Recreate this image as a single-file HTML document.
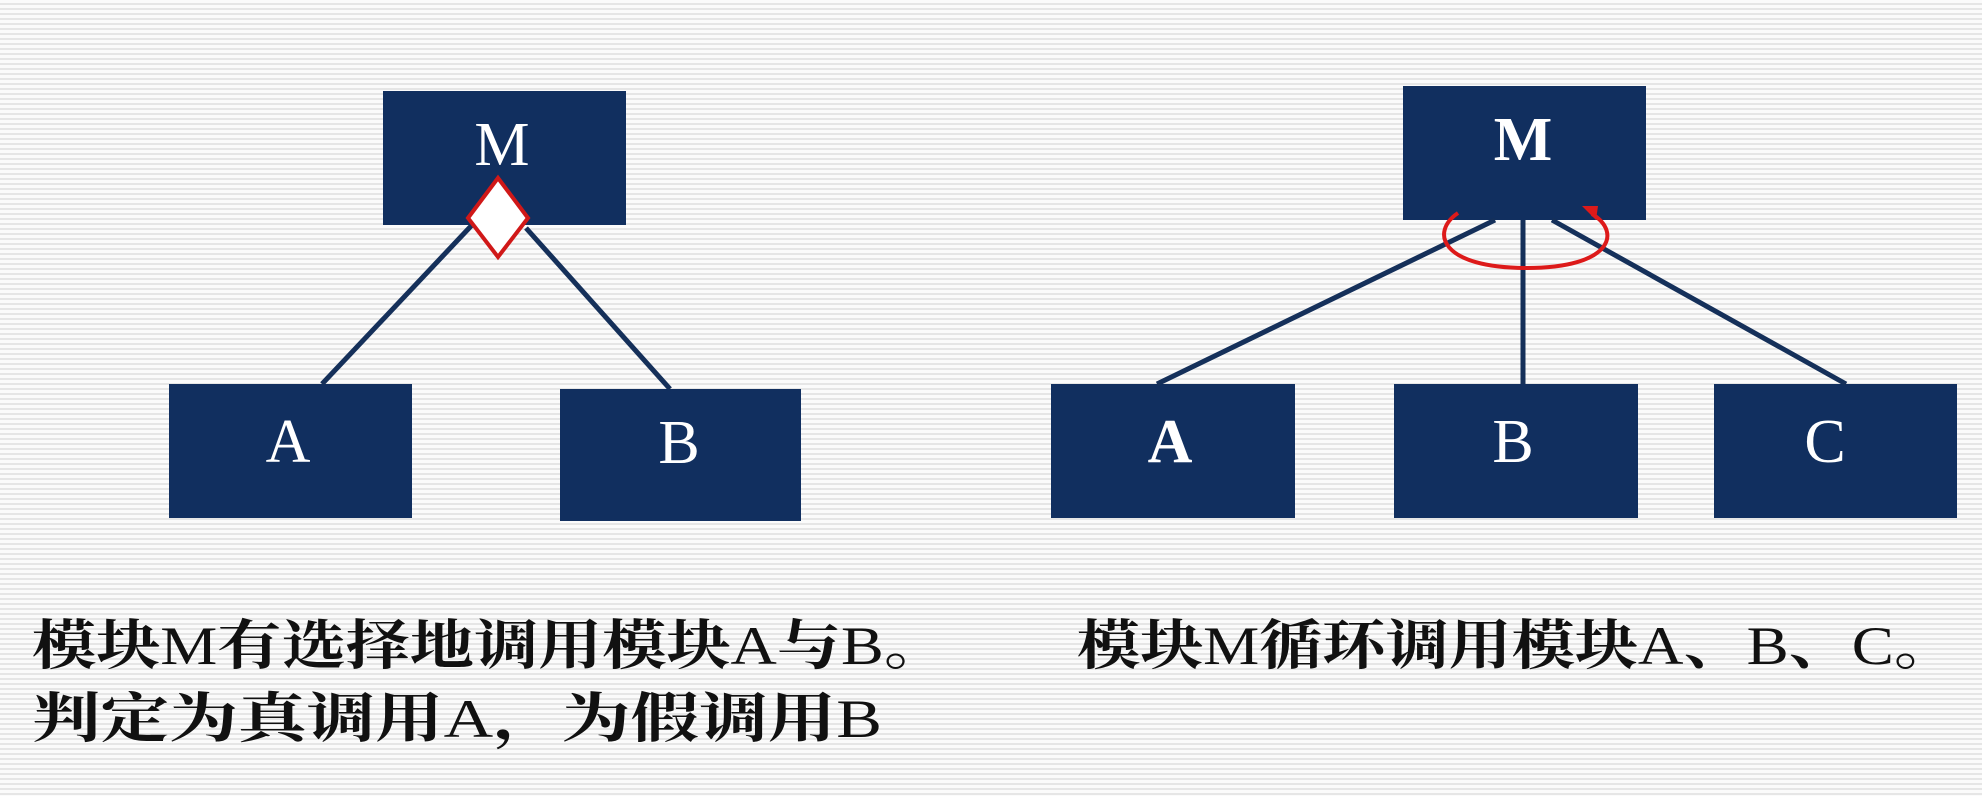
<!DOCTYPE html>
<html><head><meta charset="utf-8"><style>
html,body{margin:0;padding:0}
body{width:1982px;height:796px;overflow:hidden;background:#fafafa repeating-linear-gradient(to bottom,#fbfbfb 0px,#fbfbfb 3px,#e6e6e6 3px,#e6e6e6 5px)}
svg{position:absolute;left:0;top:0}
.l{font-weight:normal;font-family:"Liberation Serif",serif}
</style></head><body>
<svg width="1982" height="796" viewBox="0 0 1982 796">
<g fill="#112f5f">
<rect x="383" y="91" width="243" height="134"/>
<rect x="169" y="384" width="243" height="134"/>
<rect x="560" y="389" width="241" height="132"/>
<rect x="1403" y="86" width="243" height="134"/>
<rect x="1051" y="384" width="244" height="134"/>
<rect x="1394" y="384" width="244" height="134"/>
<rect x="1714" y="384" width="243" height="134"/>
</g>
<g stroke="#15305a" stroke-width="5" fill="none">
<line x1="472" y1="225" x2="322" y2="384"/>
<line x1="526" y1="228" x2="670" y2="389"/>
<line x1="1495" y1="220" x2="1157" y2="384"/>
<line x1="1523" y1="220" x2="1523" y2="384"/>
<line x1="1552" y1="220" x2="1846" y2="384"/>
</g>
<polygon points="498,178 528,218 498,257 468,218" fill="#fff" stroke="#d01818" stroke-width="4"/>
<path d="M1458,213 C1430,232 1440,268 1527,268 C1612,268 1622,232 1592,214" fill="none" stroke="#dd1a1a" stroke-width="4"/>
<polygon points="1582,206 1598,206 1596,220" fill="#dd1a1a"/>
<g fill="#fff" font-family="Liberation Serif, serif" font-size="62" text-anchor="middle">
<text x="502" y="165">M</text>
<text x="288" y="462">A</text>
<text x="679" y="463">B</text>
<text x="1523" y="160" font-weight="bold">M</text>
<text x="1170" y="462" font-weight="bold">A</text>
<text x="1513" y="462">B</text>
<text x="1825" y="462">C</text>
</g>
<g fill="#111" font-family="Liberation Serif, 'Noto Serif CJK SC', serif" font-weight="bold" font-size="54">
<text x="32" y="664" textLength="916" lengthAdjust="spacingAndGlyphs">模块<tspan class="l">M</tspan>有选择地调用模块<tspan class="l">A</tspan>与<tspan class="l">B</tspan>。</text>
<text x="32" y="737" textLength="850" lengthAdjust="spacingAndGlyphs">判定为真调用<tspan class="l">A</tspan>，为假调用<tspan class="l">B</tspan></text>
<text x="1077" y="664" textLength="880" lengthAdjust="spacingAndGlyphs">模块<tspan class="l">M</tspan>循环调用模块<tspan class="l">A</tspan>、<tspan class="l">B</tspan>、<tspan class="l">C</tspan>。</text>
</g>
</svg>
</body></html>
